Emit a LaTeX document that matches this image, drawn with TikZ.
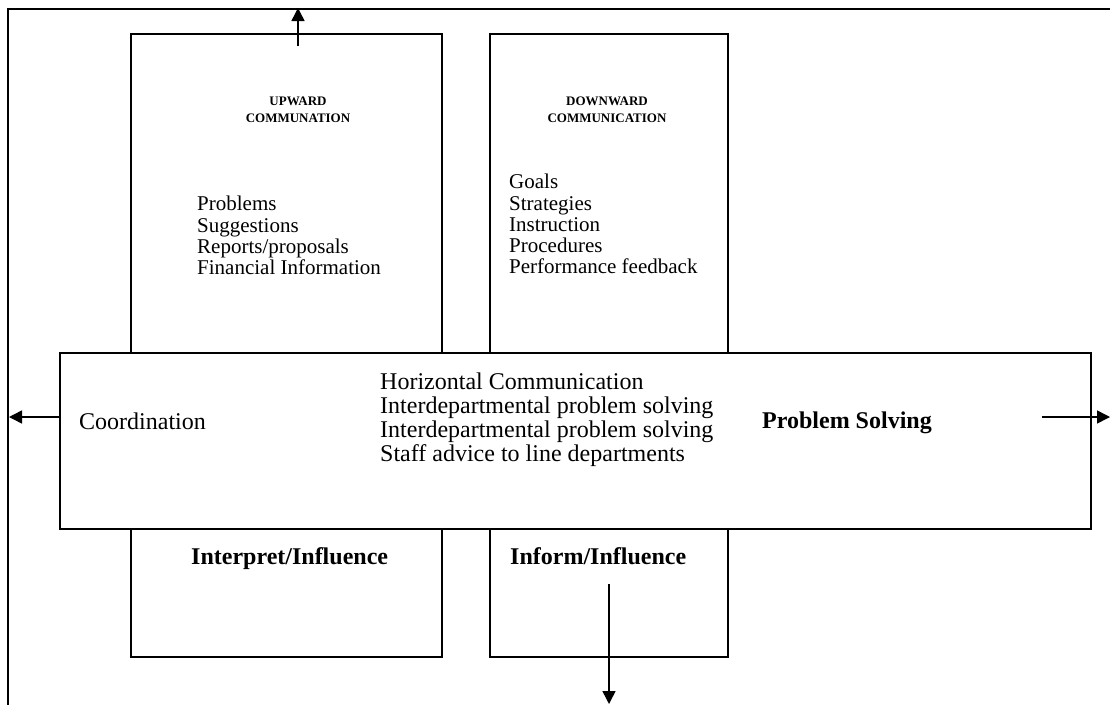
\documentclass[tikz,border=0pt]{standalone}
\usepackage{fontspec}
\setmainfont{Liberation Serif}
\usetikzlibrary{arrows.meta}
\tikzset{
  box/.style={draw, line width=1.6pt, fill=white, inner sep=0pt},
  frame/.style={draw, line width=1.6pt},
  head/.style={font=\fontsize{13}{17.5}\selectfont\bfseries, align=center, inner sep=0pt},
  lst/.style={font=\fontsize{21}{21.3}\selectfont, align=left, inner sep=0pt, anchor=north west},
  mid/.style={font=\fontsize{24}{24}\selectfont, align=left, inner sep=0pt},
  bold/.style={font=\fontsize{24}{24}\selectfont\bfseries, inner sep=0pt, anchor=base west},
  arr/.style={line width=1.5pt, -{Triangle[length=13pt,width=13pt]}}
}
\begin{document}
\begin{tikzpicture}[x=1pt,y=-1pt]
\useasboundingbox (0,0) rectangle (1110,704);
\clip (0,0) rectangle (1110,704);
\fill[white] (0,0) rectangle (1110,704);
% outer frame (extends beyond the picture at right and bottom)
\draw[frame] (8,9) rectangle (1140,740);
% side boxes
\node[box, anchor=north west, minimum width=311pt, minimum height=623pt] (up) at (130,33) {};
\node[box, anchor=north west, minimum width=238pt, minimum height=623pt] (down) at (489,33) {};
% central box
\node[box, anchor=north west, minimum width=1031pt, minimum height=176pt] (mid) at (59,352) {};
% headings
\node[head] (uph) at (298,110) {UPWARD\\COMMUNATION};
\node[head] (downh) at (607,110) {DOWNWARD\\COMMUNICATION};
% lists
\node[lst] (uplist) at (197,196) {Problems\\Suggestions\\Reports/proposals\\Financial Information};
\node[lst] (downlist) at (509,174) {Goals\\Strategies\\Instruction\\Procedures\\Performance feedback};
% central texts
\node[mid, anchor=north west] (horiz) at (380,373) {Horizontal Communication\\Interdepartmental problem solving\\Interdepartmental problem solving\\Staff advice to line departments};
\node[mid, anchor=base west] (coord) at (79,429) {Coordination};
\node[bold] (ps) at (762,428) {Problem Solving};
\node[bold] (interp) at (191,564) {Interpret/Influence};
\node[bold] (inform) at (510,564) {Inform/Influence};
% arrows
\coordinate (uptail) at (298,46);
\coordinate (uptip) at (298,8);
\coordinate (ltail) at (mid.west |- 0,417);
\coordinate (ltip) at (9,417);
\coordinate (rtail) at (1042,417);
\coordinate (rtip) at (1110,417);
\coordinate (dtail) at (609,584);
\coordinate (dtip) at (609,704);
\draw[arr] (uptail) -- (uptip);
\draw[arr] (ltail) -- (ltip);
\draw[arr] (rtail) -- (rtip);
\draw[arr] (dtail) -- (dtip);
\end{tikzpicture}
\end{document}
